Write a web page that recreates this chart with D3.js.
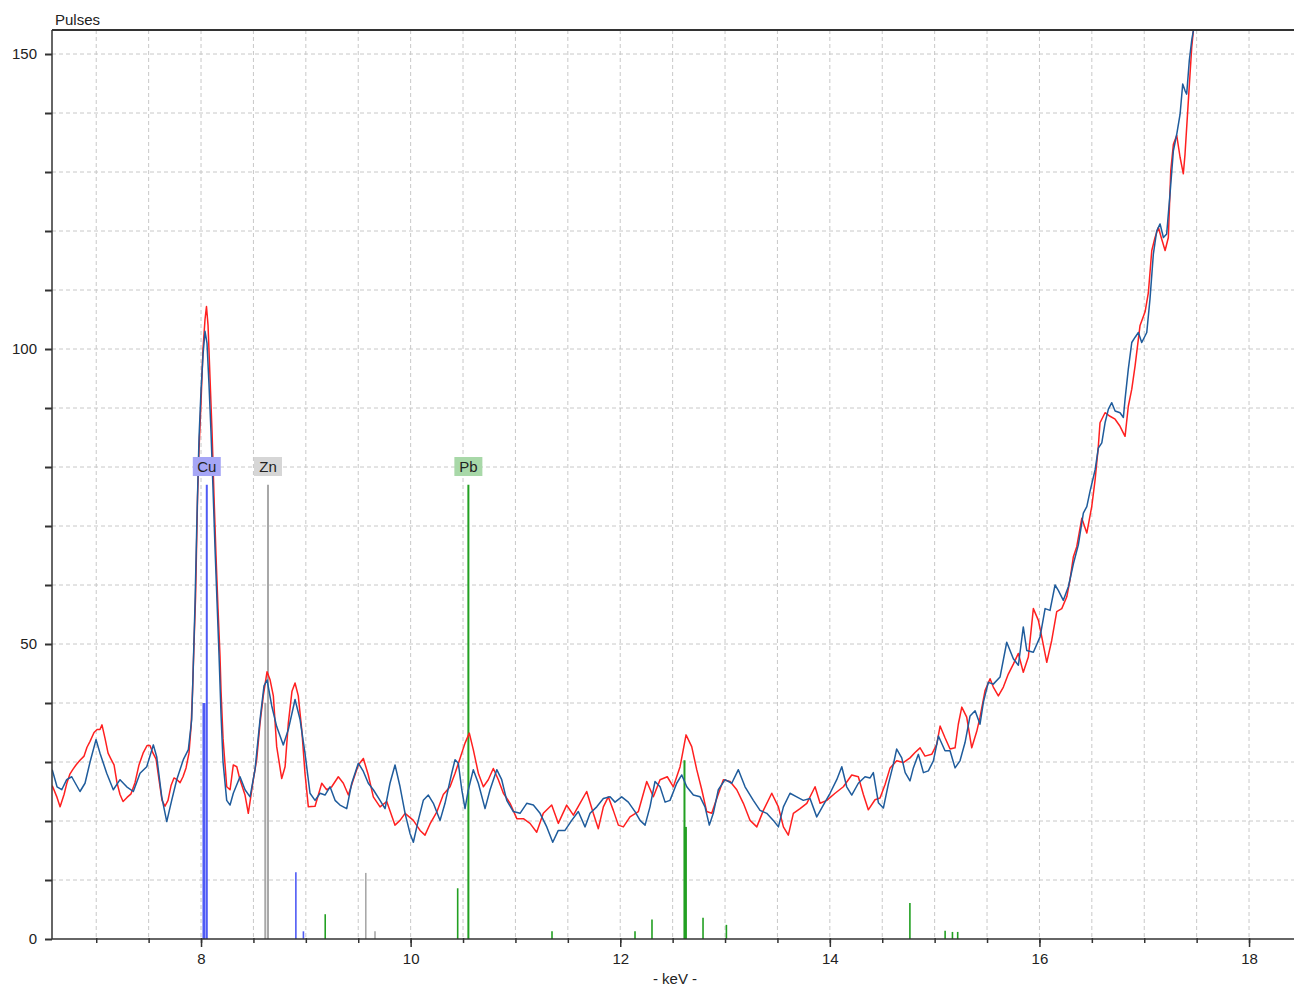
<!DOCTYPE html>
<html>
<head>
<meta charset="utf-8">
<script src="https://cdn.jsdelivr.net/npm/d3@7/dist/d3.min.js"></script>
<style>
body { margin: 0; background: #fff; }
text { font-family: "Liberation Sans", Arial, sans-serif; fill: #222; }
.grid line { stroke: #c8c8c8; stroke-width: 1; stroke-dasharray: 4,3; }
.axis path, .axis line { stroke: #333; }
.axis text { font-size: 15px; fill: #222; }
</style>
</head>
<body>
<div id="spectrum"></div>
<script>
const container_id = 'spectrum';
const width = 1294, height = 988;
const margin = {top: 30, bottom: 49, left: 52, right: 0};

// red spectrum (keV, pulses)
const redKeV = [
    6.580,6.626,6.655,6.693,6.721, 6.750,6.779,6.807,6.845,6.884,
    6.912,6.941,6.979,7.008,7.036, 7.055,7.084,7.113,7.141,7.170,
    7.198,7.227,7.256,7.294,7.332, 7.370,7.408,7.447,7.485,7.513,
    7.542,7.571,7.599,7.628,7.656, 7.685,7.714,7.742,7.771,7.800,
    7.828,7.857,7.885,7.905,7.919, 7.933,7.948,7.967,7.981,8.000,
    8.019,8.038,8.052,8.067,8.086, 8.105,8.124,8.143,8.162,8.181,
    8.191,8.210,8.245,8.277,8.308, 8.341,8.372,8.420,8.451,8.499,
    8.531,8.563,8.594,8.630,8.658, 8.690,8.722,8.770,8.802,8.833,
    8.868,8.897,8.928,8.961,8.992, 9.024,9.088,9.152,9.199,9.247,
    9.310,9.358,9.406,9.453,9.501, 9.549,9.596,9.644,9.708,9.772,
    9.851,9.899,9.947,10.026,10.090, 10.137,10.185,10.249,10.312,10.376,
    10.424,10.471,10.519,10.560,10.598, 10.646,10.694,10.741,10.789,10.837,
    10.885,10.949,11.013,11.076,11.139, 11.203,11.266,11.346,11.409,11.489,
    11.553,11.616,11.680,11.743,11.791, 11.839,11.886,11.934,11.982,12.030,
    12.093,12.173,12.253,12.316,12.380, 12.449,12.507,12.571,12.628,12.682,
    12.730,12.778,12.825,12.873,12.921, 12.984,13.048,13.112,13.175,13.239,
    13.303,13.366,13.446,13.509,13.557, 13.604,13.652,13.716,13.780,13.859,
    13.907,13.971,14.050,14.129,14.209, 14.272,14.320,14.367,14.431,14.479,
    14.527,14.575,14.638,14.701,14.765, 14.813,14.861,14.908,14.972,15.020,
    15.052,15.099,15.147,15.195,15.226, 15.259,15.306,15.354,15.402,15.433,
    15.481,15.529,15.560,15.608,15.656, 15.703,15.751,15.799,15.846,15.894,
    15.942,15.990,16.022,16.070,16.117, 16.165,16.213,16.261,16.292,16.324,
    16.356,16.404,16.452,16.499,16.531, 16.562,16.578,16.626,16.674,16.722,
    16.769,16.817,16.848,16.881,16.913, 16.960,17.008,17.039,17.072,17.103,
    17.135,17.167,17.199,17.230,17.253, 17.278,17.310,17.342,17.373,17.389,
    17.421,17.453,17.469,17.494
];
const redPulses = [
    26,24,22.4,24.5,26.5, 28,28.8,29.5,30.3,31,
    32.5,33.5,35,35.5,35.5, 36.3,34,31.5,30.5,29.5,
    26.5,24.5,23.3,24,24.6, 26.5,29.5,31.5,32.8,32.8,
    31.5,30.5,27,23.5,22.5, 23.5,26,27.3,27,26.5,
    27.5,29,31.5,36,42, 50,58,75,83,91,
    100,105,107.2,104,95, 86,75,65,56,48,
    42,34,25.8,25.3,29.5, 29.2,27,24.4,21.3,27,
    30.4,36.6,41.2,45.3,44, 41.2,32.6,27.2,29.2,36.6,
    42,43.4,41.2,35.5,28.1, 22.4,22.5,26.4,25.3,25.8,
    27.5,26.4,24.4,27,29.5, 30.6,27.8,24.1,22.4,23.3,
    19.3,20.1,21.3,20.1,18.4, 17.6,19.5,21.5,24.5,25.8,
    28.1,30.6,33.2,34.9,32.1, 28.1,25.8,27,28.9,27,
    24.7,23,20.4,20.4,19.6, 18.1,21.3,22.7,19.6,22.7,
    21,23,25,21.3,18.7, 22.4,24.1,21.8,19.3,19,
    20.7,21.6,26.7,24.1,27, 27.5,25.8,29.2,34.6,32.6,
    28.7,25.3,21.6,21.3,23.8, 27,26.7,25.3,23,20.1,
    19,21.8,24.7,22.4,19, 17.6,21.3,22.1,23,25.8,
    23,23.5,24.7,25.8,27.8, 27.5,24.5,21.9,23.6,23.9,
    26.2,29,30.2,29.9,30.7, 31.6,32.4,31,31.3,33,
    36.1,34.1,32.2,32.4,36.4, 39.3,37.6,32.4,35.2,37.6,
    42.1,44.1,42.7,41.2,42.7, 44.9,46.6,48.4,45.2,47.8,
    56,54,51.2,46.9,50.6, 55.5,56,58,60.9,64.8,
    66.5,71.3,68.8,73.3,77.8, 83.5,87.5,89.2,88.6,88.1,
    86.9,85.2,90.3,93.2,97.2, 104,106.3,109.5,116.7,118.9,
    120.6,118.6,116.7,118.9,130.2, 134.7,136.2,132.5,129.7,133,
    142.1,151.1,154,160
];

// blue spectrum (keV, pulses)
const blueKeV = [
    6.580,6.626,6.671,6.718,6.766, 6.845,6.893,6.941,6.998,7.036,
    7.100,7.163,7.227,7.291,7.354, 7.418,7.482,7.545,7.577,7.625,
    7.673,7.720,7.768,7.831,7.879, 7.911,7.924,7.943,7.962,7.981,
    8.000,8.019,8.038,8.057,8.076, 8.095,8.115,8.134,8.153,8.172,
    8.191,8.210,8.245,8.277,8.308, 8.372,8.420,8.468,8.515,8.563,
    8.601,8.630,8.675,8.722,8.785, 8.833,8.897,8.945,8.992,9.040,
    9.088,9.136,9.183,9.231,9.279, 9.326,9.390,9.438,9.501,9.549,
    9.596,9.644,9.708,9.756,9.803, 9.851,9.899,9.947,9.994,10.026,
    10.073,10.121,10.169,10.217,10.281, 10.328,10.392,10.424,10.455,10.488,
    10.519,10.551,10.598,10.646,10.710, 10.758,10.822,10.869,10.917,10.980,
    11.044,11.108,11.171,11.235,11.299, 11.356,11.409,11.473,11.537,11.600,
    11.664,11.712,11.776,11.839,11.903, 11.950,12.014,12.077,12.141,12.189,
    12.237,12.284,12.332,12.380,12.428, 12.475,12.539,12.587,12.635,12.698,
    12.762,12.809,12.850,12.888,12.936, 13.000,13.064,13.127,13.191,13.270,
    13.334,13.398,13.461,13.509,13.557, 13.620,13.684,13.747,13.811,13.875,
    13.938,14.002,14.066,14.114,14.161, 14.209,14.272,14.336,14.384,14.415,
    14.463,14.511,14.558,14.606,14.638, 14.686,14.719,14.765,14.797,14.845,
    14.893,14.940,14.988,15.036,15.099, 15.147,15.195,15.242,15.290,15.338,
    15.386,15.433,15.465,15.512,15.560, 15.624,15.688,15.751,15.799,15.846,
    15.879,15.942,16.006,16.054,16.101, 16.149,16.180,16.228,16.276,16.324,
    16.371,16.419,16.452,16.483,16.531, 16.562,16.595,16.626,16.658,16.690,
    16.722,16.769,16.801,16.817,16.848, 16.881,16.913,16.944,16.976,17.024,
    17.055,17.087,17.119,17.151,17.183, 17.214,17.246,17.278,17.310,17.342,
    17.367,17.389,17.405,17.430,17.453, 17.469,17.494
];
const bluePulses = [
    28.7,25.8,25.3,27,27.5, 25,26.4,30,33.8,31.5,
    28.1,25.3,27,25.8,25, 28.1,29.2,32.9,30.9,24.1,
    19.9,23.5,27,30.4,32.1, 37.2,45,57,72,85,
    93,99,103,101,94, 86,76,66,57,48,
    38,30,23.5,22.7,24.7, 27.5,25.3,24.1,28.7,37.2,
    42.9,43.9,39.5,36,32.9, 35.5,40.6,37.2,31.5,24.7,
    23.5,24.7,24.4,25.8,23.5, 22.7,22.1,26.4,29.8,28.4,
    26.4,25.3,23.5,22.1,26.4, 29.5,25.8,21.3,17.9,16.4,
    20.1,23.5,24.4,23,20.1, 23,28.1,30.4,29.8,25.3,
    22.1,25.3,28.7,26.4,22.1, 25.3,28.7,27,23.5,21.6,
    21.3,23,22.7,21.3,19, 16.4,18.4,18.4,20.1,21.6,
    19,21.3,22.4,23.8,24.1, 23.2,24.1,23.2,21.6,20.1,
    19.3,22.4,26.7,25.8,23.2, 23.5,26.4,27.8,25.8,24.4,
    24.1,22.4,19.3,21.3,25.3, 27,26.4,28.7,25.8,23.5,
    21.8,21.3,20.1,19,22.4, 24.7,24.1,23.5,23.8,20.7,
    22.7,24.7,27,29.2,25.8, 24.4,26.4,27.5,27.3,28.2,
    23.1,22.2,26.2,29.6,32.2, 30.7,28.2,26.8,29,31.3,
    28.2,28.5,30.2,34.4,31.9, 31.9,29,30.2,33.3,37.8,
    38.7,36.4,40.1,43.5,43.2, 44.4,50.3,47.5,46.4,52.9,
    48.9,48.6,51.2,56,55.7, 60,59.1,57.4,59.7,63.6,
    66.8,72.2,73.3,75.9,79.5, 83.2,84.1,87.5,89.8,90.9,
    89.5,89.2,88.4,91.5,96.6, 101.1,102,102.8,101.1,102.8,
    108.5,116.1,120,121.2,118.9, 119.5,126.3,133.6,136.4,139.8,
    144.9,143.8,143.2,148.9,152.3, 154,160
];

// element marker lines
const cuKeV = [8.028, 8.055, 8.905, 8.977];
const cuPulses = [40, 77, 11.3, 1.3];
const znKeV = [8.613, 8.639, 9.572, 9.660];
const znPulses = [40, 77, 11.2, 1.3];
const pbKeV = [9.185, 10.449, 10.551, 11.349, 12.141, 12.303, 12.613, 12.622, 12.790, 13.013, 14.764, 15.100, 15.170, 15.220];
const pbPulses = [4.2, 8.6, 77, 1.3, 1.3, 3.3, 30.3, 19, 3.6, 2.4, 6.1, 1.4, 1.2, 1.2];

const elementNames = ['Cu', 'Zn', 'Pb'];
const elementLabelKeV = [8.055, 8.639, 10.551];
const elementLabelPulses = [80, 80, 80];

// ticks
const xTicks = [7, 7.5, 8, 8.5, 9, 9.5, 10, 10.5, 11, 11.5, 12, 12.5, 13, 13.5, 14, 14.5, 15, 15.5, 16, 16.5, 17, 17.5, 18];
const xLabels = [8, 10, 12, 14, 16, 18];
const yTicks = [0, 10, 20, 30, 40, 50, 60, 70, 80, 90, 100, 110, 120, 130, 140, 150];
const yLabels = [0, 50, 100, 150];

const xScale = d3.scaleLinear().domain([6.578, 18.429]).range([margin.left, width - margin.right]);
const yScale = d3.scaleLinear().domain([0, 154.07]).range([height - margin.bottom, margin.top]);

function drawGrid(svg) {
    let g = svg.append('g').attr('class', 'grid');
    g.selectAll('.vgrid').data(xTicks).enter().append('line')
        .attr('x1', d => xScale(d)).attr('x2', d => xScale(d))
        .attr('y1', yScale.range()[1]).attr('y2', yScale.range()[0]);
    g.selectAll('.hgrid').data(yTicks.filter(d => d > 0)).enter().append('line')
        .attr('x1', margin.left).attr('x2', width)
        .attr('y1', d => yScale(d)).attr('y2', d => yScale(d));
}

function drawElementLines(svg, keVs, pulses, color, widths) {
    svg.append('g').selectAll('line')
        .data(d3.zip(keVs, pulses)).enter().append('line')
        .attr('x1', d => xScale(d[0])).attr('x2', d => xScale(d[0]))
        .attr('y1', yScale(0)).attr('y2', d => yScale(d[1]))
        .attr('stroke', color)
        .attr('stroke-width', (d, i) => widths[i] || 1.6);
}

function drawLabels(svg) {
    const fills = ['#a6a6f6', '#d6d6d6', '#a8d8a8'];
    let g = svg.append('g');
    elementNames.forEach(function(name, i) {
        let cx = xScale(elementLabelKeV[i]), cy = yScale(elementLabelPulses[i]);
        g.append('rect')
            .attr('x', cx - 14).attr('y', cy - 10)
            .attr('width', 28).attr('height', 19)
            .attr('fill', fills[i]);
        g.append('text')
            .attr('x', cx).attr('y', cy + 5)
            .attr('text-anchor', 'middle')
            .style('font-size', '15px')
            .text(name);
    });
}

function drawSpectrum(svg, keVs, pulses, color) {
    let line = d3.line().x(d => xScale(d[0])).y(d => yScale(d[1]));
    svg.append('path')
        .datum(d3.zip(keVs, pulses))
        .attr('clip-path', 'url(#plot-clip)')
        .attr('fill', 'none')
        .attr('stroke', color)
        .attr('stroke-width', 1.5)
        .attr('stroke-linejoin', 'round')
        .attr('d', line);
}

function drawAxes(svg) {
    // minor x ticks
    svg.append('g')
        .attr('class', 'axis')
        .attr('transform', 'translate(0,' + yScale(0) + ')')
        .call(d3.axisBottom(xScale).tickValues(xTicks).tickSize(4).tickSizeOuter(0).tickFormat(''))
        .call(g => g.select('.domain').remove())
        .call(g => g.selectAll('line').attr('y1', -1).attr('stroke-width', 1.5));
    // labelled x ticks
    svg.append('g')
        .attr('class', 'axis')
        .attr('transform', 'translate(0,' + yScale(0) + ')')
        .call(d3.axisBottom(xScale).tickValues(xLabels).tickSize(8).tickSizeOuter(0).tickPadding(6))
        .call(g => g.select('.domain').remove())
        .call(g => g.selectAll('line').attr('stroke-width', 1.5));
    svg.append('line')
        .attr('x1', margin.left).attr('x2', width)
        .attr('y1', yScale(0)).attr('y2', yScale(0))
        .attr('stroke', '#333').attr('stroke-width', 1.5);

    svg.append('g')
        .attr('class', 'axis')
        .attr('transform', 'translate(' + margin.left + ',0)')
        .call(d3.axisLeft(yScale).tickValues(yTicks).tickSize(7).tickSizeOuter(0).tickPadding(8)
            .tickFormat(d => yLabels.includes(d) ? d : ''))
        .call(g => g.select('.domain').remove())
        .call(g => g.selectAll('line').attr('stroke-width', 2));
    svg.append('line')
        .attr('x1', margin.left).attr('x2', margin.left)
        .attr('y1', margin.top).attr('y2', yScale(0))
        .attr('stroke', '#333').attr('stroke-width', 1.5);
    // top frame
    svg.append('line')
        .attr('x1', margin.left).attr('x2', width)
        .attr('y1', margin.top).attr('y2', margin.top)
        .attr('stroke', '#333').attr('stroke-width', 2);

    svg.append('text')
        .attr('x', 55).attr('y', 25)
        .style('font-size', '15px')
        .text('Pulses');
    svg.append('text')
        .attr('x', 675).attr('y', 984)
        .attr('text-anchor', 'middle')
        .style('font-size', '15px')
        .text('- keV -');
}

function main() {
    let svg = d3.select('#' + container_id)
        .append('svg')
        .attr('width', width)
        .attr('height', height);

    svg.append('defs').append('clipPath').attr('id', 'plot-clip')
        .append('rect')
        .attr('x', margin.left).attr('y', margin.top)
        .attr('width', width - margin.left).attr('height', yScale(0) - margin.top);

    drawGrid(svg);
    drawElementLines(svg, cuKeV, cuPulses, '#4f5bf5', [3, 2]);
    drawElementLines(svg, znKeV, znPulses, '#a8a8a8', [2, 2]);
    drawElementLines(svg, pbKeV, pbPulses, '#22a022', [1.6, 1.6, 2, 1.6, 1.6, 1.6, 2, 3]);
    drawSpectrum(svg, redKeV, redPulses, '#ff2020');
    drawSpectrum(svg, blueKeV, bluePulses, '#1f5c9c');
    drawLabels(svg);
    drawAxes(svg);
}

main();
</script>
</body>
</html>
